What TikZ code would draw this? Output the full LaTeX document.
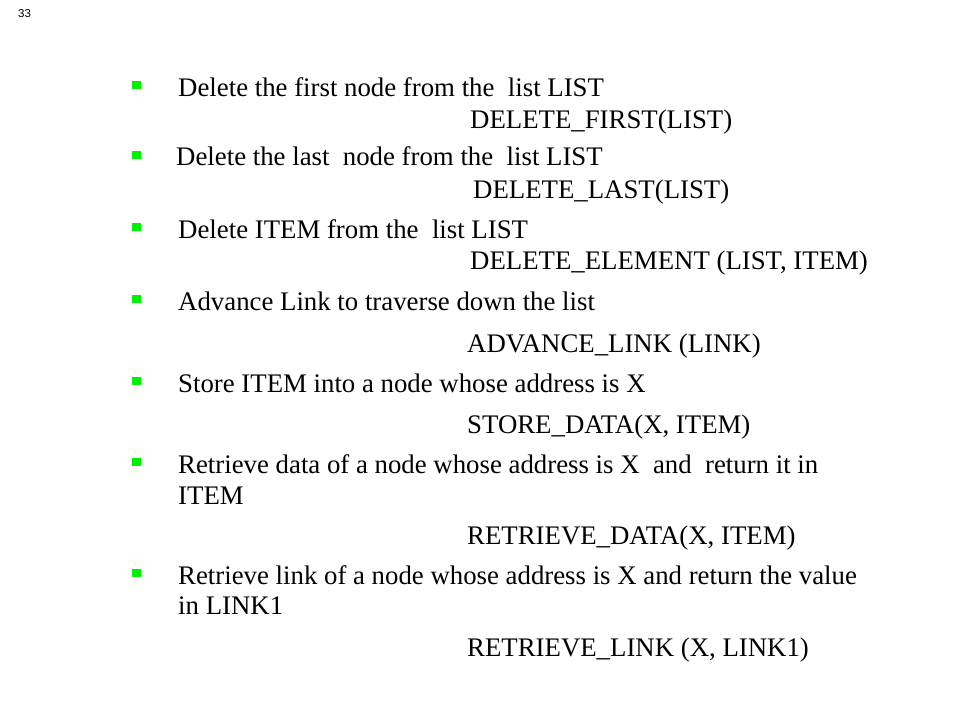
\documentclass[tikz,border=0pt]{standalone}
\usepackage{fontspec}
\setmainfont{Liberation Serif}
\newfontfamily\arialfont{Liberation Sans}
\usetikzlibrary{positioning}
\definecolor{bulletgreen}{RGB}{0,240,0}
\tikzset{
    slidetext/.style = {anchor=base west, inner sep=0pt, font=\fontsize{26.8}{31}\selectfont},
    item_text/.style = {slidetext},
    cmd_text/.style = {slidetext},
    bullet_box/.style = {rectangle, fill=bulletgreen, minimum width=8.5pt, minimum height=8.5pt, inner sep=0pt},
    page_num/.style = {anchor=base west, inner sep=0pt, font=\arialfont\fontsize{11.5}{13}\selectfont}
}

\begin{document}
\begin{tikzpicture}[x=1pt, y=-1pt]
                    \useasboundingbox (0,0) rectangle (960,720);
                    \node [page_num] (page) at (18,17) {33};
                    \foreach \name/\y in {b1/85, b2/155, b3/227, b4/299, b5/381, b6/462, b7/573}
                        \node [bullet_box] (\name) at (136.5,\y) {};
                    \node [item_text] (del_first) at (178,96) {Delete the first node from the~ list LIST};
                    \node [cmd_text] (del_first_cmd) at (470,128) {DELETE\_FIRST(LIST)};
                    \node [item_text] (del_last) at (176,165) {Delete the last~ node from the~ list LIST};
                    \node [cmd_text] (del_last_cmd) at (473,198) {DELETE\_LAST(LIST)};
                    \node [item_text] (del_elem) at (178,238) {Delete ITEM from the~ list LIST};
                    \node [cmd_text] (del_elem_cmd) at (470,269) {DELETE\_ELEMENT (LIST, ITEM)};
                    \node [item_text] (advance) at (178,310) {Advance Link to traverse down the list};
                    \node [cmd_text] (advance_cmd) at (467,352) {ADVANCE\_LINK (LINK)};
                    \node [item_text] (store) at (178,392) {Store ITEM into a node whose address is X};
                    \node [cmd_text] (store_cmd) at (467,433) {STORE\_DATA(X, ITEM)};
                    \node [item_text] (get_data) at (178,473) {Retrieve data of a node whose address is X~ and~ return it in};
                    \node [item_text] (get_data_b) at (178,504) {ITEM};
                    \node [cmd_text] (get_data_cmd) at (467,544) {RETRIEVE\_DATA(X, ITEM)};
                    \node [item_text] (get_link) at (178,584) {Retrieve link of a node whose address is X and return the value};
                    \node [item_text] (get_link_b) at (178,614) {in LINK1};
                    \node [cmd_text] (get_link_cmd) at (467,656) {RETRIEVE\_LINK (X, LINK1)};
                \end{tikzpicture}
\end{document}
